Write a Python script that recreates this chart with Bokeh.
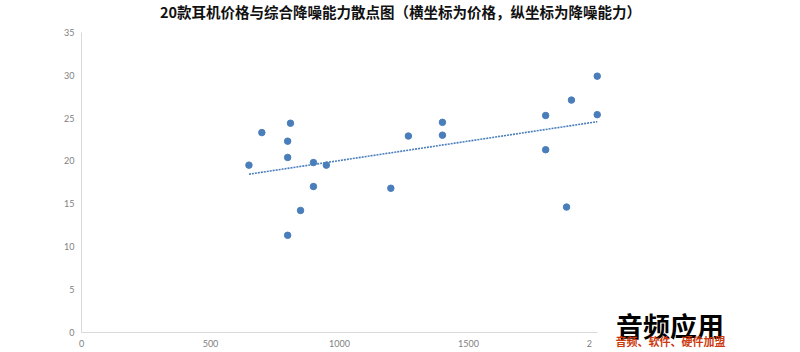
import numpy as np
from bokeh.plotting import figure
from bokeh.models import Range1d, FixedTicker, Label
from bokeh.embed import file_html
from bokeh.resources import INLINE

# Data
price = [649, 699, 810, 799, 799, 799, 849, 899, 899, 949,
         1199, 1267, 1399, 1399, 1799, 1799, 1880, 1899, 1999, 1999]
noise = [19.5, 23.3, 24.4, 22.3, 20.4, 11.3, 14.2, 19.8, 17.0, 19.5,
         16.8, 22.9, 24.5, 23.0, 25.3, 21.3, 14.6, 27.1, 29.9, 25.4]
x_ticks = [0, 500, 1000, 1500, 2000]
y_ticks = [0, 5, 10, 15, 20, 25, 30, 35]
title_text = "20款耳机价格与综合降噪能力散点图（横坐标为价格，纵坐标为降噪能力）"
wm_main = "音频应用"
wm_sub = "音频、软件、硬件加盟"

BLUE = "#4A7EBB"
AXIS = "#D9D9D9"
TICK = "#7F7F7F"

W, H = 800, 352
# pixel placement of the axes (0..2000 -> 81..597, 0..35 -> 331.5..32)
X0, X1, Y0, Y1 = 81.0, 597.0, 331.5, 32.0
sx = (X1 - X0) / 2000.0
sy = (Y0 - Y1) / 35.0
x_start = -X0 / sx
x_end = x_start + W / sx
y_end = 35 + Y1 / sy
y_start = -(H - Y0) / sy

p = figure(width=W, height=H, output_backend="svg", toolbar_location=None,
           x_range=Range1d(x_start, x_end), y_range=Range1d(y_start, y_end),
           min_border=0)
p.outline_line_color = None
p.xgrid.grid_line_color = None
p.ygrid.grid_line_color = None
p.background_fill_color = "white"
p.border_fill_color = "white"

for ax in (p.xaxis[0], p.yaxis[0]):
    ax.axis_line_color = AXIS
    ax.axis_line_width = 1
    ax.major_tick_line_color = None
    ax.minor_tick_line_color = None
    ax.major_tick_out = 0
    ax.major_tick_in = 0
    ax.minor_tick_out = 0
    ax.minor_tick_in = 0
    ax.major_label_text_color = TICK
    ax.major_label_text_font = "Lato"
    ax.major_label_text_font_size = "9px"
    ax.fixed_location = 0
p.xaxis[0].ticker = FixedTicker(ticks=x_ticks)
p.yaxis[0].ticker = FixedTicker(ticks=y_ticks)
p.xaxis[0].bounds = (0, 2000)
p.yaxis[0].bounds = (0, 35)
p.xaxis[0].major_label_standoff = 6
p.yaxis[0].major_label_standoff = 7
# the watermark hides the last three digits of "2000" in the reference
p.xaxis[0].major_label_overrides = {2000: "2" + "\u00a0" * 7}

# trend line (least squares)
k, b = np.polyfit(price, noise, 1)
xs = [min(price), max(price)]
ys = [k * v + b for v in xs]
p.line(xs, ys, line_color=BLUE, line_width=1.6, line_dash="2 1")

p.scatter(price, noise, size=6.5, fill_color=BLUE, line_color=BLUE)

p.add_layout(Label(x=400, y=H - 10.5, x_units="screen", y_units="screen",
                   text=title_text, text_align="center", text_baseline="middle",
                   text_font="Noto Sans CJK SC", text_font_style="bold",
                   text_font_size="14.5px", text_color="#111111"))

p.add_layout(Label(x=669.5, y=H - 324.5, x_units="screen", y_units="screen",
                   text=wm_main, text_align="center", text_baseline="middle",
                   text_font="Noto Sans CJK SC", text_font_style="bold",
                   text_font_size="27px", text_color="#000000"))
p.add_layout(Label(x=670, y=H - 340.5, x_units="screen", y_units="screen",
                   text=wm_sub, text_align="center", text_baseline="middle",
                   text_font="Noto Sans CJK SC", text_font_style="bold",
                   text_font_size="11px", text_color="#CC3A10"))

open("out.html", "w").write(file_html(p, INLINE))
